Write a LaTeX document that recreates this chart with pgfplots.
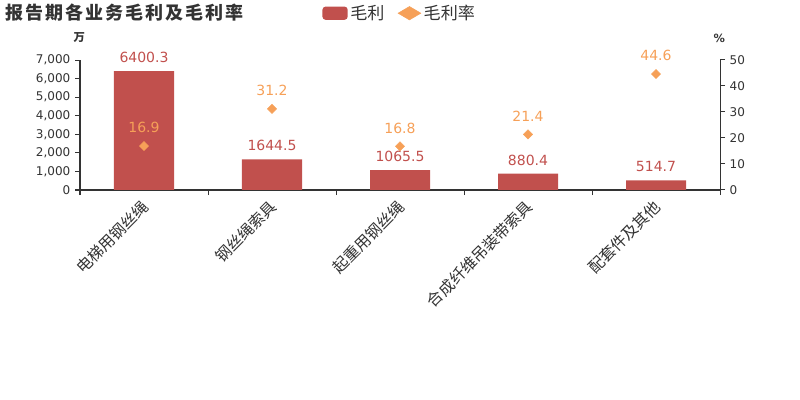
\documentclass[border=0pt]{standalone}
\usepackage{fontspec}
\setmainfont{DejaVu Sans}
\newfontfamily\cjk{Noto Sans CJK SC}
\newfontfamily\cjktitle{Noto Sans CJK SC}[LetterSpace=11]
\usepackage{pgfplots}
\pgfplotsset{compat=1.18}

\definecolor{barred}{RGB}{193,80,77}
\definecolor{rateorange}{RGB}{246,160,88}
\definecolor{axisgray}{RGB}{51,51,51}

\pgfplotsset{
  base/.style={
    at={(60pt,157.5pt)}, anchor=south west, scale only axis,
    width=480pt, height=97.5pt,
    xmin=-0.5, xmax=4.5,
    tick align=outside, major tick length=3.75pt,
    axis line style={draw=axisgray, line width=0.75pt},
    tick style={draw=axisgray, line width=0.75pt},
    y tick label style={font=\fontsize{9}{10}\selectfont, text=axisgray},
    /pgf/number format/.cd, 1000 sep={,}, assume math mode=true,
  },
}

\begin{document}
\begin{tikzpicture}
\path[use as bounding box] (0,0) rectangle (600pt,300pt);

\node[anchor=west, font=\cjktitle\bfseries\fontsize{13.5}{16}\selectfont, text=axisgray, inner sep=0pt]
  at (4pt,290.5pt) {报告期各业务毛利及毛利率};
\node[font=\cjk\bfseries\fontsize{8.5}{10}\selectfont, text=axisgray] at (59.5pt,271.5pt) {万};
\node[font=\bfseries\fontsize{8.5}{10}\selectfont, text=axisgray] at (539.5pt,271.5pt) {\%};

\begin{axis}[base,
  ymin=0, ymax=7000,
  axis x line*=bottom, axis y line*=left,
  ytick={0,1000,...,7000},
  xtick={-0.5,0.5,...,4.5}, x tick label as interval,
  xticklabels={电梯用钢丝绳,钢丝绳索具,起重用钢丝绳,合成纤维吊装带索具,配套件及其他},
  x tick label style={font=\cjk\fontsize{11.8}{12}\selectfont, rotate=45,
    anchor=north east, text=axisgray, inner sep=1pt, xshift=-2.5pt, yshift=1pt},
  ybar, bar width=45pt,
  legend columns=2,
  legend style={draw=none, at={(0.5,1.36)}, anchor=center,
    font=\cjk\fontsize{12.8}{14}\selectfont, text=axisgray,
    /tikz/every even column/.append style={column sep=8pt}},
]
\addplot[fill=barred, draw=none,
  nodes near coords, point meta=explicit symbolic,
  every node near coord/.append style={text=barred, inner sep=0pt, yshift=6pt,
    font=\fontsize{10.5}{12}\selectfont},
  legend image code/.code={\fill[barred, rounded corners=2.5pt] (0pt,-5pt) rectangle (19pt,5pt);}]
  coordinates {(0,6400.3)[6400.3] (1,1644.5)[1644.5] (2,1065.5)[1065.5] (3,880.4)[880.4] (4,514.7)[514.7]};
\addlegendentry{毛利}
\addlegendimage{legend image code/.code={\fill[rateorange] (0pt,0pt) -- (8.5pt,5pt) -- (17pt,0pt) -- (8.5pt,-5pt) -- cycle;}}
\addlegendentry{毛利率}
\end{axis}

\begin{axis}[base,
  ymin=0, ymax=50,
  axis x line=none, axis y line*=right,
  ytick={0,10,...,50},
]
\addplot[only marks, mark=diamond*, mark size=3.4pt,
  mark options={fill=rateorange, draw=rateorange, xscale=1.33},
  nodes near coords, point meta=explicit symbolic,
  every node near coord/.append style={text=rateorange, inner sep=0pt, yshift=9.5pt,
    font=\fontsize{10.5}{12}\selectfont}]
  coordinates {(0,16.9)[16.9] (1,31.2)[31.2] (2,16.8)[16.8] (3,21.4)[21.4] (4,44.6)[44.6]};
\end{axis}
\end{tikzpicture}
\end{document}
